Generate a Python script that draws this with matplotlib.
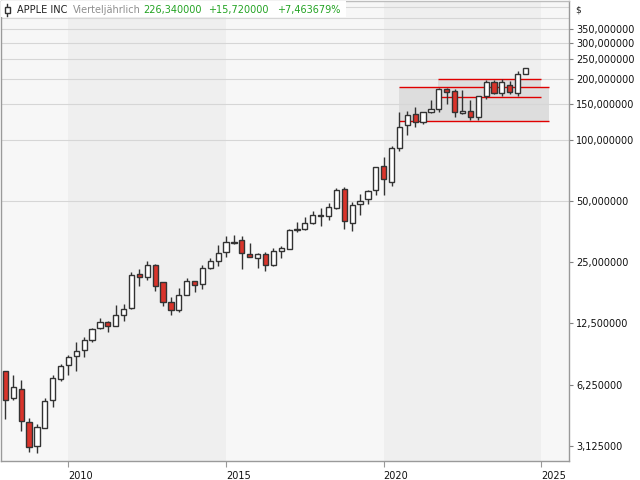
import matplotlib
matplotlib.use("Agg")
import matplotlib.pyplot as plt
from matplotlib.patches import Rectangle
from matplotlib.lines import Line2D
from matplotlib.ticker import FixedLocator, FuncFormatter, NullLocator

# APPLE INC, quarterly candles 2008 Q1 .. 2024 Q3 (USD)
first_year = 2008
opens = [7.26, 5.36, 5.98, 4.08, 3.13, 3.82, 5.25, 6.68, 7.82, 8.60,
         9.30, 10.36, 11.90, 12.73, 12.20, 13.80, 14.90, 21.90, 21.20, 24.30,
         19.90, 15.90, 14.50, 17.30, 20.20, 19.50, 23.40, 25.30, 28.00, 31.20,
         32.00, 27.50, 26.20, 27.40, 24.20, 28.30, 29.20, 36.00, 36.30, 38.90,
         42.60, 42.10, 46.10, 57.30, 38.90, 48.30, 51.10, 56.60, 74.20, 62.00,
         91.00, 118.10, 133.80, 123.00, 136.90, 141.60, 177.50, 173.60, 135.30, 138.40,
         129.30, 164.10, 192.10, 169.70, 185.80, 169.70, 210.62]
highs = [7.30, 6.98, 6.58, 4.27, 4.00, 5.38, 6.94, 7.87, 8.70, 10.15,
         10.70, 11.90, 13.30, 12.85, 15.40, 15.50, 22.30, 23.20, 25.40, 24.60,
         20.10, 16.80, 18.60, 20.90, 20.30, 24.20, 26.20, 30.40, 33.80, 34.20,
         33.80, 31.00, 27.90, 28.20, 29.30, 30.10, 36.50, 39.50, 41.70, 44.60,
         46.10, 49.00, 57.80, 58.50, 49.40, 54.00, 56.60, 73.60, 82.50, 93.10,
         136.80, 139.30, 144.80, 137.40, 156.70, 179.60, 181.00, 177.50, 175.50, 156.70,
         164.50, 196.60, 196.60, 199.00, 194.60, 217.80, 226.34]
lows = [4.23, 5.25, 3.68, 2.90, 2.87, 3.82, 4.86, 6.53, 6.94, 7.26,
        8.55, 10.10, 11.75, 11.30, 12.10, 12.80, 14.80, 19.00, 20.50, 18.00,
        15.20, 13.80, 14.30, 17.20, 17.80, 18.40, 23.20, 23.90, 26.40, 30.90,
        23.20, 26.40, 23.30, 22.60, 23.90, 26.20, 29.00, 35.10, 35.90, 38.50,
        37.60, 40.30, 45.50, 36.60, 35.50, 42.60, 48.30, 53.80, 53.30, 59.20,
        88.60, 106.20, 115.30, 120.00, 135.30, 137.80, 149.90, 129.30, 134.50, 125.00,
        125.00, 158.60, 167.80, 164.10, 167.80, 164.10, 210.62]
closes = [5.25, 6.05, 4.13, 3.09, 3.87, 5.21, 6.70, 7.72, 8.55, 9.13,
          10.36, 11.75, 12.73, 12.20, 13.80, 14.70, 21.70, 21.20, 24.30, 19.20,
          16.00, 14.50, 17.30, 20.20, 19.30, 23.40, 25.40, 27.70, 31.40, 31.60,
          27.70, 26.60, 27.40, 24.30, 28.30, 29.30, 36.10, 36.40, 38.90, 42.60,
          42.10, 46.60, 56.60, 39.80, 47.80, 50.00, 56.00, 73.40, 64.10, 91.00,
          115.50, 132.30, 122.20, 136.90, 141.60, 177.50, 172.90, 136.90, 138.40, 129.30,
          164.10, 192.10, 169.70, 192.10, 171.70, 210.62, 226.34]

# drawn boxes (start year, end year, low, high)
box_big = (2020.49, 2025.25, 123.6, 181.7)
box_small = (2021.73, 2024.99, 162.2, 198.8)

ytick_vals = [3.125, 6.25, 12.5, 25, 50, 100, 150, 200, 250, 300, 350]
grid_levels = [50, 100, 150, 200, 250, 300, 350, 400, 450]
year_ticks = [2010, 2015, 2020, 2025]

W, H = 640, 480
FS = 7


def fx(px):
    return px / W


def fy(py):
    return 1 - py / H


fig = plt.figure(figsize=(6.4, 4.8), dpi=100)
ax = fig.add_axes([0.0008, fy(461), 568.5 / W, (461 - 1) / H])

x_left = 2010 - 68 / 31.55
x_right = 2010 + 501 / 31.55
ax.set_xlim(x_left, x_right)
ax.set_yscale("log")
ax.set_ylim(2.63, 482.7)

# alternating 5-year bands
edges = [x_left, 2010, 2015, 2020, 2025, x_right]
for k in range(len(edges) - 1):
    col = "#efefef" if k % 2 == 1 else "#f7f7f7"
    ax.axvspan(edges[k], edges[k + 1], color=col, lw=0, zorder=0)

for b in (box_big, box_small):
    ax.add_patch(Rectangle((b[0], b[2]), b[1] - b[0], b[3] - b[2],
                           facecolor="#dddddd", edgecolor="none", zorder=0.5))

for g in grid_levels:
    ax.axhline(g, color="#d6d6d6", lw=0.8, zorder=1)

for b in (box_big, box_small):
    ax.hlines([b[2], b[3]], b[0], b[1], color="#e00000", lw=1.0, zorder=2)

xs = [first_year + i / 4 for i in range(len(closes))]
bottoms = [min(o, c) for o, c in zip(opens, closes)]
heights = [max(abs(c - o), 0.001 * c) for o, c in zip(opens, closes)]
fills = ["#d9342b" if c < o else "white" for o, c in zip(opens, closes)]

ax.vlines(xs, lows, highs, color="#333333", lw=1.0, zorder=3)
ax.bar(xs, heights, width=0.165, bottom=bottoms, color=fills,
       edgecolor="#333333", linewidth=1.0, zorder=4)

# axes styling
ax.yaxis.tick_right()
ax.yaxis.set_major_locator(FixedLocator(ytick_vals))
ax.yaxis.set_minor_locator(NullLocator())
ax.yaxis.set_major_formatter(FuncFormatter(lambda v, p: f"{v:.6f}".replace(".", ",")))
ax.tick_params(axis="y", length=3, width=0.8, color="#808080",
               labelsize=FS, pad=2, labelcolor="#111111")

ax.set_xticks(year_ticks)
ax.set_xticklabels([str(y) for y in year_ticks])
for lab in ax.get_xticklabels():
    lab.set_ha("left")
ax.tick_params(axis="x", length=4, width=0.8, color="#999999",
               labelsize=FS, pad=3, labelcolor="#111111")

for side in ["left", "bottom", "right"]:
    ax.spines[side].set_color("#9a9a9a")
    ax.spines[side].set_linewidth(1.0)
ax.spines["top"].set_color("#bdbdbd")
ax.spines["top"].set_linewidth(1.0)

# header
fig.add_artist(Rectangle((fx(1), fy(17)), fx(345), 16 / H, transform=fig.transFigure,
                         facecolor="white", edgecolor="none", zorder=5))
fig.add_artist(Line2D([fx(7), fx(7)], [fy(4), fy(16)], transform=fig.transFigure,
                      color="#333333", lw=1, zorder=6))
fig.add_artist(Rectangle((fx(4.5), fy(13)), 5 / W, 6 / H, transform=fig.transFigure,
                         facecolor="white", edgecolor="#333333", lw=1, zorder=7))

change = closes[-1] - closes[-2]
pct = change / closes[-2] * 100
hy = fy(10)
fig.text(fx(17), hy, "APPLE INC", fontsize=FS, color="#222222", va="center", zorder=8)
fig.text(fx(73), hy, "Vierteljährlich", fontsize=FS, color="#8f8f8f", va="center", zorder=8)
fig.text(fx(143), hy, f"{closes[-1]:.6f}".replace(".", ","), fontsize=FS,
         color="#23a323", va="center", zorder=8)
fig.text(fx(208), hy, f"+{change:.6f}".replace(".", ","), fontsize=FS,
         color="#23a323", va="center", zorder=8)
fig.text(fx(277), hy, f"+{pct:.6f}%".replace(".", ","), fontsize=FS,
         color="#23a323", va="center", zorder=8)
fig.text(fx(575), hy, "$", fontsize=6.5, color="#222222", va="center")

fig.savefig("out.png", dpi=100, facecolor="white")
